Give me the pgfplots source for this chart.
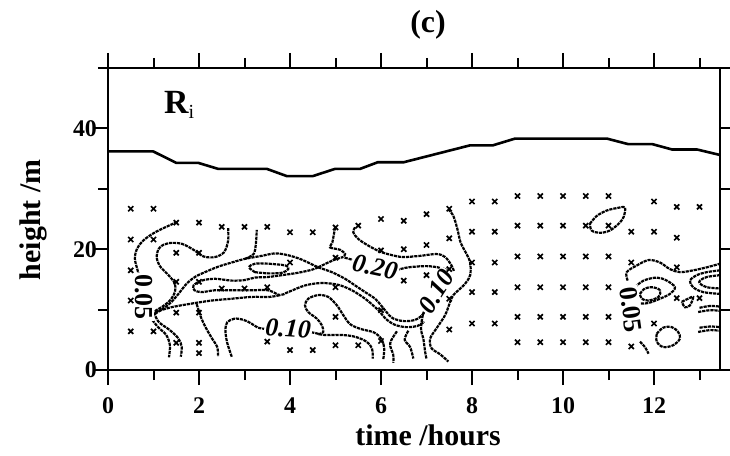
\documentclass[border=0pt]{standalone}
\usepackage{fontspec}
\setmainfont{Liberation Serif}
\usepackage{pgfplots}
\pgfplotsset{compat=1.18}
\begin{document}
\begin{tikzpicture}
\begin{axis}[
  scale only axis, width=306bp, height=151bp,
  xmin=0, xmax=13.45, ymin=0, ymax=50,
  xtick={0,2,...,12}, ytick={0,20,40},
  minor xtick={1,3,...,13}, minor ytick={10,30,50},
  tick align=outside,
  major tick length=7.5bp, minor tick length=5bp,
  axis line style={line width=1.2bp},
  every tick/.style={black, line width=1bp},
  /pgf/number format/assume math mode=true,
  ticklabel style={font=\fontsize{12}{12}\selectfont\bfseries},
  xticklabel style={yshift=-3bp},
  yticklabel style={xshift=5.5bp},
  xlabel={time /hours}, ylabel={height /m},
  label style={font=\fontsize{15}{15}\selectfont\bfseries},
  xlabel style={at={(axis description cs:0.523,-0.215)}, anchor=center},
  ylabel style={at={(axis description cs:-0.122,0.497)}, anchor=center},
  title={(c)},
  title style={font=\fontsize{16}{16}\selectfont\bfseries, at={(axis description cs:0.523,1.105)}, anchor=center},
  cont/.style={black, line width=1.1bp, dash pattern=on 1.6bp off 0.45bp, smooth, tension=0.55},
]
% boundary height
\addplot[black, line width=1.3bp, sharp plot] coordinates {
(0,36.2)(0.99,36.2)(1.5,34.3)(1.98,34.3)(2.42,33.3)(3.49,33.3)(3.93,32.1)(4.5,32.1)
(4.99,33.3)(5.54,33.3)(5.93,34.4)(6.5,34.4)(7.96,37.2)(8.46,37.2)(8.94,38.3)(10.97,38.3)
(11.43,37.4)(11.96,37.4)(12.4,36.5)(12.95,36.5)(13.45,35.6)};
% measurement points
\addplot[only marks, mark=x, mark size=1.8bp, mark options={black, line width=0.85bp}] coordinates {
(0.5,26.7)(0.5,21.6)(0.5,16.5)(0.5,11.5)(0.5,6.4)
(1,26.7)(1,21.6)(1,6.4)
(1.5,24.4)(1.5,19.4)(1.5,14.6)(1.5,9.5)(1.5,4.5)
(2,24.4)(2,19.4)(2,14.6)(2,9.5)(2,4.5)(2,2.8)
(2.5,23.7)(2.5,13.5)
(3,23.7)(3,13.5)
(3.5,23.7)(3.5,13.7)(3.5,4.7)
(4,22.8)(4,17.8)(4,3.3)
(4.5,22.8)(4.5,3.3)
(5,23.6)(5,18.6)(5,13.7)(5,8.8)(5,4.1)
(5.5,23.9)(5.5,4.1)
(6,25.0)(6,19.8)(6,9.9)(6,4.8)
(6.5,24.7)(6.5,20.0)(6.5,14.8)
(7,25.8)(7,20.7)(7,15.7)
(7.5,26.7)(7.5,21.8)(7.5,16.7)(7.5,11.8)(7.5,6.7)
(8,27.9)(8,22.9)(8,17.8)(8,12.9)(8,7.7)
(8.5,27.9)(8.5,22.9)(8.5,17.8)(8.5,12.9)(8.5,7.7)
(9,28.8)(9,23.9)(9,18.8)(9,13.7)(9,8.8)(9,4.6)
(9.5,28.8)(9.5,23.9)(9.5,18.8)(9.5,13.7)(9.5,8.8)(9.5,4.6)
(10,28.8)(10,23.9)(10,18.8)(10,13.7)(10,8.8)(10,4.6)
(10.5,28.8)(10.5,23.9)(10.5,18.8)(10.5,13.7)(10.5,8.8)(10.5,4.6)
(11,28.8)(11,23.9)(11,18.8)(11,13.7)(11,8.8)(11,4.6)
(11.5,22.9)(11.5,17.8)(11.5,3.9)
(12,27.9)(12,22.9)(12,7.7)
(12.5,27.0)(12.5,21.9)(12.5,17.0)(12.5,11.9)
(13,27.0)(13,11.9)};
% ---- contours, left group
\addplot[cont] coordinates {(1.52,24.5)(1.25,23.6)(0.99,22.6)(0.77,21.4)(0.64,20.1)(0.59,18.5)(0.64,16.8)(0.70,15.2)};
\addplot[cont] coordinates {(0.92,8.8)(1.1,7.1)(1.28,5.8)(1.36,4.1)(1.34,2.1)};
\addplot[cont] coordinates {(2.64,23.5)(2.64,21.4)(2.55,19.5)(2.35,18.7)(2.1,18.8)(1.88,19.9)(1.62,20.9)(1.33,21.0)(1.14,20.3)(1.07,18.9)(1.13,17.3)(1.33,15.7)(1.47,14.3)(1.47,12.9)(1.36,11.5)(1.18,10.4)(1.03,9.6)(1.11,8.0)(1.36,6.6)(1.55,5.2)(1.62,3.8)(1.6,2.2)};
\addplot[cont] coordinates {(1.03,9.3)(1.22,10.2)(1.4,11.3)(1.58,12.9)(1.73,14.3)(1.91,15.4)(2.13,16.2)(2.42,17.1)(2.72,17.8)(3.01,18.4)(3.38,18.9)(3.67,19.3)(3.96,19.0)(4.25,18.3)(4.45,17.6)(4.62,17.0)(4.92,16.2)(5.21,15.1)(5.43,14.0)(5.65,12.9)(5.87,11.8)(6.0,10.7)(6.12,9.6)(6.25,8.6)(6.49,8.1)(6.75,8.3)(6.92,9.2)(6.98,10.2)};
\addplot[cont] coordinates {(3.01,18.4)(3.2,19.2)(3.25,20.9)(3.27,23.2)};
\addplot[cont] coordinates {(4.62,17.0)(4.48,16.6)(4.18,16.1)(3.82,15.7)(3.52,15.4)(3.23,15.3)(3.01,14.9)(2.72,14.8)(2.35,15.1)(2.06,14.8)(1.88,14.0)(1.9,13.2)(2.06,12.9)(2.35,13.2)(2.72,13.2)(3.16,13.2)(3.52,13.2)(3.78,12.4)(3.96,12.9)(4.33,14.0)(4.70,14.4)(5.06,14.1)(5.36,13.2)(5.65,11.8)(5.87,10.4)(5.98,9.6)(6.1,8.5)(6.3,7.5)(6.55,7.1)(6.8,7.3)(6.95,8.0)};
\addplot[cont] coordinates {(3.23,16.2)(3.52,16.0)(3.82,16.1)(3.96,16.7)(3.9,17.3)(3.52,17.6)(3.23,17.6)(3.1,17.0)(3.23,16.2)};
\addplot[cont] coordinates {(4.62,17.0)(4.84,17.8)(5.03,18.4)(5.17,18.7)};
\addplot[cont] coordinates {(4.99,23.6)(4.93,21.1)(4.88,20.3)(5.1,19.9)(5.21,19.2)(5.17,18.7)};
\addplot[cont] coordinates {(1.03,9.6)(1.4,10.4)(1.84,11.0)(2.28,11.5)(2.72,11.8)(3.16,12.1)(3.55,12.1)(3.78,12.4)};
\addplot[cont] coordinates {(1.95,10.9)(2.05,8.6)(2.15,7.0)(2.28,5.3)(2.4,3.8)(2.42,2.2)};
\addplot[cont] coordinates {(2.72,2.2)(2.62,4.5)(2.58,6.6)(2.62,7.9)(2.78,8.5)(2.98,8.3)(3.15,7.7)(3.3,7.0)(3.5,6.8)(4.0,6.7)(4.5,6.2)(4.75,5.8)(5.14,5.8)(5.43,5.5)(5.68,4.7)(5.8,3.6)(5.82,1.9)};
\addplot[cont] coordinates {(4.62,5.9)(4.73,6.3)(4.70,7.4)(4.59,8.5)(4.40,9.6)(4.33,10.7)(4.40,11.8)(4.62,12.4)(4.84,12.1)(5.03,10.7)(5.17,9.1)(5.32,7.6)(5.55,6.8)(5.85,6.2)(6.02,5.0)(6.07,3.5)(6.05,1.8)};
\addplot[cont] coordinates {(5.43,23.6)(5.39,22.8)(5.5,21.7)(5.72,20.6)(5.98,19.6)(6.25,19.0)(6.49,18.7)(6.86,18.9)(7.22,19.2)(7.41,18.7)(7.55,17.3)(7.6,16.4)};
\addplot[cont] coordinates {(5.2,18.6)(5.9,17.2)(6.3,16.6)(6.6,17.0)(7.0,17.2)(7.3,16.9)(7.45,16.2)(7.22,13.0)(6.95,9.8)(6.88,6.9)(6.93,5.2)(6.97,3.0)(7.0,1.8)};
\addplot[cont] coordinates {(6.35,6.4)(6.2,4.4)(6.27,2.5)(6.27,1.2)};
\addplot[cont] coordinates {(6.6,6.5)(6.52,5.0)(6.64,3.8)(6.71,1.9)};
\addplot[cont] coordinates {(7.48,26.6)(7.59,25.5)(7.68,23.3)(7.75,21.1)(7.88,19.2)(7.96,17.8)(7.96,15.7)(7.85,14.3)(7.7,13.2)(7.59,12.4)(7.52,11.3)(7.41,9.1)(7.22,6.9)(7.08,5.2)(7.11,3.6)(7.30,2.6)(7.48,1.4)};
% ---- contours, right group
\addplot[cont] coordinates {(10.59,24.2)(10.74,25.5)(10.96,26.4)(11.18,26.8)(11.36,26.9)(11.33,25.3)(11.22,24.2)(11.03,23.1)(10.81,22.7)(10.63,23.1)(10.59,24.2)};
\addplot[cont] coordinates {(11.42,14.8)(11.4,16.2)(11.62,17.3)(11.88,18.2)(12.13,17.8)(12.35,16.7)(12.57,16.2)(12.86,16.5)(13.16,17.0)(13.45,17.6)};
\addplot[cont] coordinates {(11.58,13.7)(11.77,14.8)(12.06,15.3)(12.28,14.8)(12.46,13.7)(12.35,12.6)(12.13,11.8)(11.88,11.1)(11.69,11.0)};
\addplot[cont] coordinates {(11.69,12.6)(11.8,13.5)(11.98,13.7)(12.13,13.2)(12.1,12.1)(11.88,11.5)(11.73,11.8)(11.69,12.6)};
\addplot[cont] coordinates {(13.45,16.5)(13.16,16.2)(12.94,15.7)(12.79,14.8)(12.86,13.7)(13.08,12.9)(13.45,12.6)};
\addplot[cont] coordinates {(13.45,15.7)(13.16,15.4)(13.01,14.8)(13.01,14.3)(13.16,13.7)(13.45,13.5)};
\addplot[cont] coordinates {(12.61,11.3)(12.75,11.8)(12.86,12.1)(12.79,10.7)(12.68,10.4)(12.61,11.3)};
\addplot[cont] coordinates {(12.06,6.0)(12.2,7.0)(12.39,7.1)(12.53,6.3)(12.57,5.2)(12.42,4.1)(12.2,3.8)(12.06,4.7)(12.06,6.0)};
\addplot[cont] coordinates {(11.69,4.7)(11.8,3.8)(11.88,2.7)};
\addplot[cont] coordinates {(12.97,9.6)(13.23,9.9)(13.45,9.8)};
\addplot[cont] coordinates {(13.0,10.3)(13.23,10.6)(13.45,10.5)};
\addplot[cont] coordinates {(12.97,6.3)(13.23,6.6)(13.45,6.5)};
\addplot[cont] coordinates {(13.0,7.0)(13.23,7.2)(13.45,7.1)};
% ---- labels
\node[anchor=base west, font=\fontsize{17}{17}\selectfont\bfseries] at (axis cs:1.08,42.4) {R\raisebox{-2.5bp}{\fontsize{10}{10}\selectfont\mdseries i}};
\node[fill=white, inner sep=0.6bp, rotate=-90, font=\fontsize{13}{13}\selectfont\bfseries] at (axis cs:0.8,12.1) {0.05};
\node[fill=white, inner sep=0.6bp, rotate=-12, font=\fontsize{13}{13}\selectfont\bfseries\itshape] at (axis cs:5.87,17.0) {0.20};
\node[fill=white, inner sep=0.6bp, rotate=-4, font=\fontsize{13}{13}\selectfont\bfseries\itshape] at (axis cs:3.96,6.9) {0.10};
\node[fill=white, inner sep=0.6bp, rotate=57, font=\fontsize{13}{13}\selectfont\bfseries\itshape] at (axis cs:7.22,13.0) {0.10};
\node[fill=white, inner sep=0.6bp, rotate=-82, font=\fontsize{13}{13}\selectfont\bfseries] at (axis cs:11.49,10.0) {0.05};
\end{axis}
\pgfresetboundingbox
\path[use as bounding box] ([shift={(-54bp,-43bp)}]current axis.south west) rectangle ([shift={(5bp,34bp)}]current axis.north east);
\end{tikzpicture}
\end{document}
